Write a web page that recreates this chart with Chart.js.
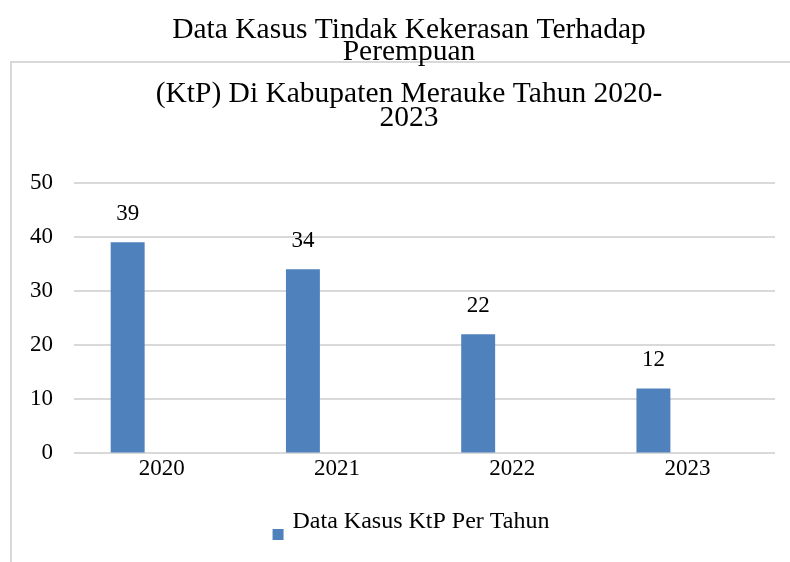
<!DOCTYPE html>
<html>
<head>
<meta charset="utf-8">
<script src="https://cdn.jsdelivr.net/npm/chart.js@4.4.1/dist/chart.umd.min.js"></script>
<style>
  html, body { margin: 0; padding: 0; background: #fff; overflow: hidden; }
  canvas { display: block; }
</style>
</head>
<body>
<!-- canvas runs a bit past the window, the original frame is cut off on the right too -->
<canvas id="ktpChart" width="824" height="562"></canvas>
<script>
const years = ['2020', '2021', '2022', '2023'];
const kasusKtp = [39, 34, 22, 12];
const seriesLabel = 'Data Kasus KtP Per Tahun';
const titleLines = ['Data Kasus Tindak Kekerasan Terhadap', 'Perempuan'];
const subtitleLines = ['(KtP) Di Kabupaten Merauke Tahun 2020-', '2023'];

const serif = '"Times New Roman", "Liberation Serif", serif';
const barColor = '#4f81bd';

// empty second series, Excel left a slot for it next to each bar
const emptySeries = years.map(() => null);

// legend marker sits low next to the text, like the original
const makeLegendMarker = () => {
    const c = document.createElement('canvas');
    c.width = 22;
    c.height = 36;
    const g = c.getContext('2d');
    g.fillStyle = barColor;
    g.fillRect(9, 25, 11, 11);
    return c;
}

const frameLines = {
    id: 'frameLines',
    beforeDraw(chart) {
        const ctx = chart.ctx;
        ctx.save();
        ctx.strokeStyle = '#d9d9d9';
        ctx.lineWidth = 2;
        ctx.beginPath();
        ctx.moveTo(11, chart.height);
        ctx.lineTo(11, 62);
        ctx.lineTo(chart.width, 62);
        ctx.stroke();
        ctx.restore();
    }
}

const valueLabels = {
    id: 'valueLabels',
    afterDatasetsDraw(chart) {
        const ctx = chart.ctx;
        const meta = chart.getDatasetMeta(0);
        ctx.save();
        ctx.font = '23px ' + serif;
        ctx.fillStyle = '#000';
        ctx.textAlign = 'center';
        ctx.textBaseline = 'middle';
        meta.data.forEach((bar, i) => {
            ctx.fillText(String(kasusKtp[i]), bar.x, bar.y - 28);
        });
        ctx.restore();
    }
}

const main = () => {
    const ctx = document.querySelector('#ktpChart').getContext('2d');
    new Chart(ctx, {
        type: 'bar',
        data: {
            labels: years,
            datasets: [
                {
                    label: seriesLabel,
                    data: kasusKtp,
                    backgroundColor: barColor,
                    borderWidth: 0
                },
                {
                    label: '',
                    data: emptySeries,
                    backgroundColor: 'rgba(0,0,0,0)'
                }
            ]
        },
        options: {
            responsive: false,
            animation: false,
            devicePixelRatio: 1,
            categoryPercentage: 0.775,
            barPercentage: 0.5,
            layout: {
                padding: { left: 9, right: 15, top: 0, bottom: 18 }
            },
            plugins: {
                title: {
                    display: true,
                    text: titleLines,
                    color: '#000',
                    font: { family: serif, size: 29.5, weight: 'normal', lineHeight: 0.75 },
                    padding: { top: 19, bottom: 0 }
                },
                subtitle: {
                    display: true,
                    text: subtitleLines,
                    color: '#000',
                    font: { family: serif, size: 29.5, weight: 'normal', lineHeight: 0.82 },
                    padding: { top: 19, bottom: 52 }
                },
                legend: {
                    position: 'bottom',
                    labels: {
                        color: '#000',
                        font: { family: serif, size: 24 },
                        usePointStyle: true,
                        pointStyle: makeLegendMarker(),
                        pointStyleWidth: 12,
                        padding: 25,
                        filter: (item) => item.datasetIndex === 0
                    }
                },
                tooltip: { enabled: false }
            },
            scales: {
                x: {
                    grid: { display: false, drawTicks: false },
                    border: { display: false },
                    ticks: {
                        color: '#000',
                        font: { family: serif, size: 23 },
                        padding: 2
                    }
                },
                y: {
                    min: 0,
                    max: 50,
                    grid: { color: '#d9d9d9', lineWidth: 2, drawTicks: false },
                    border: { display: false },
                    ticks: {
                        stepSize: 10,
                        color: '#000',
                        font: { family: serif, size: 23 },
                        padding: 21
                    }
                },
                // blank strip on the right so the plot ends where the original does
                spacer: {
                    type: 'linear',
                    position: 'right',
                    display: true,
                    grid: { display: false, drawTicks: false },
                    border: { display: false },
                    ticks: { display: false },
                    afterFit: (scale) => { scale.width = 34; }
                }
            }
        },
        plugins: [frameLines, valueLabels]
    });
}

window.addEventListener('DOMContentLoaded', main);
</script>
</body>
</html>
